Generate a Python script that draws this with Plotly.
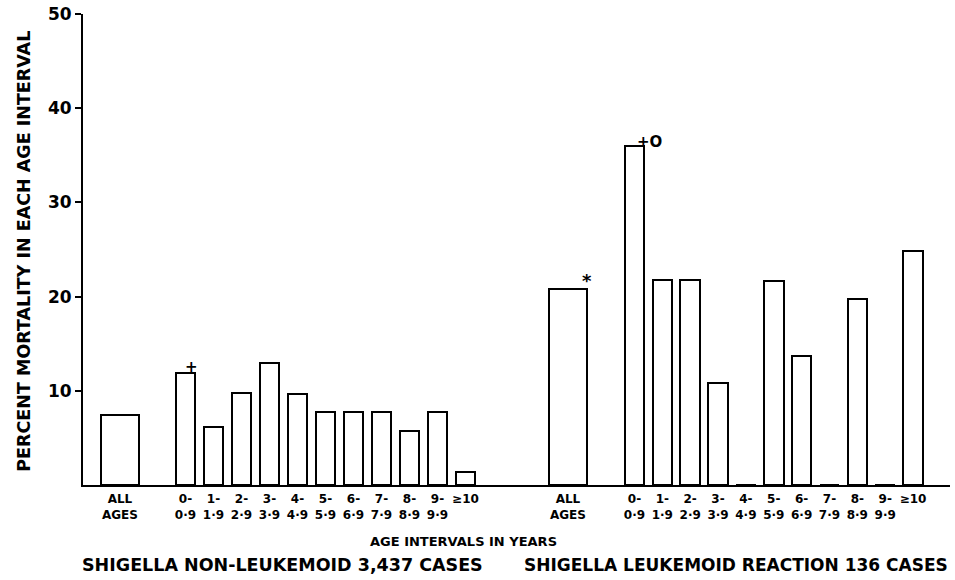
import plotly.graph_objects as go

# Percent mortality by age interval, two Shigella case groups
age_labels = ["0-<br>0·9", "1-<br>1·9", "2-<br>2·9", "3-<br>3·9", "4-<br>4·9",
              "5-<br>5·9", "6-<br>6·9", "7-<br>7·9", "8-<br>8·9", "9-<br>9·9", "≥10<br> "]
all_label = "ALL<br>AGES"

non_leukemoid_all = 7.4
non_leukemoid_ages = [11.9, 6.2, 9.8, 12.9, 9.7, 7.7, 7.7, 7.7, 5.7, 7.7, 1.35]

leukemoid_all = 20.8
leukemoid_ages = [36.0, 21.8, 21.8, 10.8, 0, 21.7, 13.7, 0, 19.7, 0, 24.8]

group_titles = ["SHIGELLA NON-LEUKEMOID 3,437 CASES",
                "SHIGELLA LEUKEMOID REACTION 136 CASES"]
x_title = "AGE INTERVALS IN YEARS"
y_title = "PERCENT MORTALITY IN EACH AGE INTERVAL"
y_ticks = [10, 20, 30, 40, 50]

# slot layout along the x axis (one unit = one age slot)
left_all_x = 0.0
left_start, left_step = 2.34, 1.0
right_all_x = 16.0
right_start, right_step = 18.375, 0.995

left_x = [left_start + i * left_step for i in range(len(non_leukemoid_ages))]
right_x = [right_start + i * right_step for i in range(len(leukemoid_ages))]

FONT = "DejaVu Sans"
bar_style = dict(marker=dict(color="white", line=dict(color="black", width=2)),
                 showlegend=False, hoverinfo="skip")

fig = go.Figure()
fig.add_trace(go.Bar(x=[left_all_x, right_all_x], y=[non_leukemoid_all, leukemoid_all],
                     width=1.37, **bar_style))
fig.add_trace(go.Bar(x=left_x + right_x, y=non_leukemoid_ages + leukemoid_ages,
                     width=0.7, **bar_style))

tickvals = [left_all_x] + left_x + [right_all_x] + right_x
ticktext = [all_label] + age_labels + [all_label] + age_labels
ticktext = [f"<b>{t}</b>" for t in ticktext]

PLOT_L, PLOT_W, PLOT_T, PLOT_H = 83, 867, 14, 471.5


def px_to_paper(px, py):
    return (px - PLOT_L) / PLOT_W, 1 - (py - PLOT_T) / PLOT_H


fig.update_layout(
    width=955, height=580,
    margin=dict(l=PLOT_L, r=955 - PLOT_L - PLOT_W, t=PLOT_T, b=580 - PLOT_T - PLOT_H),
    paper_bgcolor="white", plot_bgcolor="white",
    font=dict(family=FONT, color="black"),
    bargap=0,
    xaxis=dict(range=[-1.32, -1.32 + PLOT_W / 28], tickvals=tickvals, ticktext=ticktext,
               tickfont=dict(size=12), ticklabelstandoff=2,
               showline=True, linecolor="black", linewidth=2,
               ticks="", showgrid=False, zeroline=False, fixedrange=True),
    yaxis=dict(range=[0, 50], tickvals=y_ticks, ticktext=[f"<b>{v}</b>" for v in y_ticks],
               tickfont=dict(size=17),
               showline=True, linecolor="black", linewidth=2,
               ticks="outside", ticklen=6, tickwidth=2, tickcolor="black",
               showgrid=False, zeroline=False, fixedrange=True),
)

# significance markers above bars
fig.add_annotation(x=left_x[0] + 0.22, y=non_leukemoid_ages[0], text="<b>+</b>",
                   showarrow=False, xanchor="center", yanchor="bottom", yshift=-5,
                   font=dict(size=15, family=FONT))
fig.add_annotation(x=right_x[0] + 0.55, y=leukemoid_ages[0], text="<b>+O</b>",
                   showarrow=False, xanchor="center", yanchor="bottom", yshift=-7,
                   font=dict(size=15, family=FONT))
fig.add_annotation(x=right_all_x + 0.68, y=leukemoid_all, text="<b>*</b>",
                   showarrow=False, xanchor="center", yanchor="bottom", yshift=-4,
                   font=dict(size=18, family=FONT))

# axis titles and group captions
captions = [
    (y_title, 24, 252, 17.5, -90),
    (x_title, 463, 542, 13, 0),
    (group_titles[0], 282, 566, 17.5, 0),
    (group_titles[1], 736, 566, 17, 0),
]
for text, cx, cy, size, angle in captions:
    px, py = px_to_paper(cx, cy)
    fig.add_annotation(xref="paper", yref="paper", x=px, y=py, text=f"<b>{text}</b>",
                       textangle=angle, showarrow=False, xanchor="center", yanchor="middle",
                       font=dict(size=size, family=FONT))

fig.write_html("out.html")
